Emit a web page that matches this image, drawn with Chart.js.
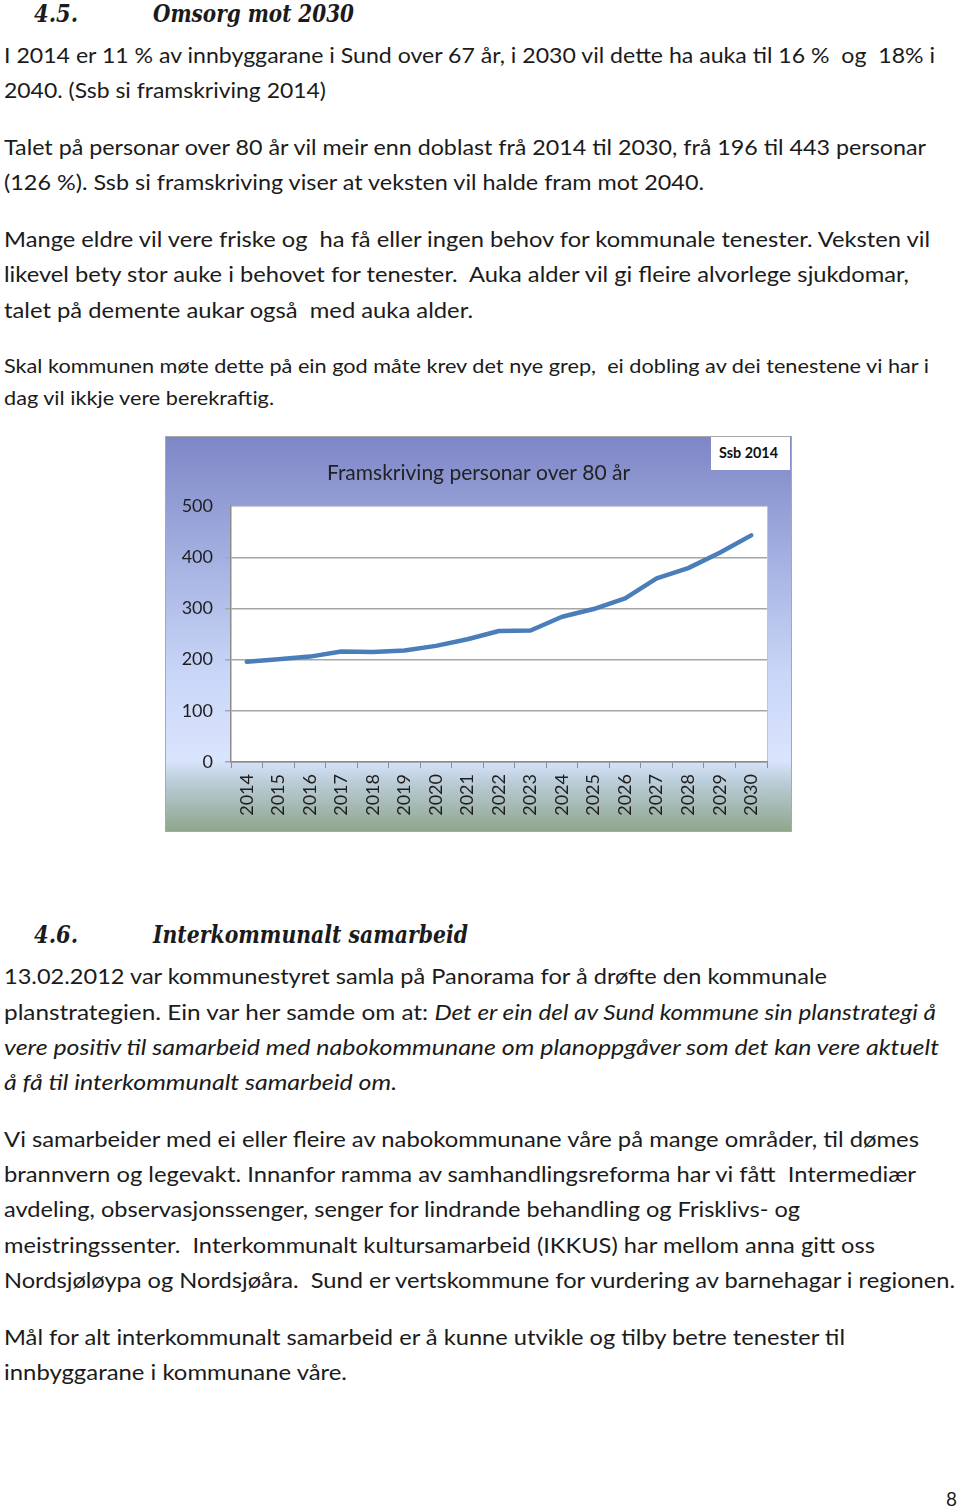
<!DOCTYPE html>
<html>
<head>
<meta charset="utf-8">
<script src="https://cdn.jsdelivr.net/npm/chart.js@4.4.0/dist/chart.umd.min.js"></script>
<style>
  body { margin: 0; background: #fff; width: 960px; height: 1509px; position: relative; overflow: hidden; }
  .ln { position: absolute; white-space: nowrap; font-family: Lato, sans-serif; color: #1b1b1b; line-height: 1; transform-origin: 0 0; }
  .hd { font-family: "DejaVu Serif", serif; font-weight: bold; font-style: italic; }
  #frame { position: absolute; left: 165px; top: 436px; width: 625px; height: 394px; border: 1px solid #a8a8a8;
    background: linear-gradient(to bottom, #7e86c6 0%, #a3afe0 30%, #c9d6f7 60%, #d9e4fd 82%, #b9cbd6 88%, #8fa68b 100%); }
  #chart-box { position: absolute; left: 0; top: 0; width: 625px; height: 394px; }
  #ssb { position: absolute; left: 545px; top: 0; width: 79px; height: 33px; background: #fff; }
</style>
</head>
<body>
<div id="text"></div>
<div id="frame">
  <div id="chart-box"><canvas id="chart" width="625" height="394"></canvas></div>
  <div id="ssb"><span class="ln" id="ssbTxt" style="font-weight:bold;font-size:15px;left:8px;top:8px;color:#111">Ssb 2014</span></div>
</div>
<script>
// data
const years = ['2014', '2015', '2016', '2017', '2018', '2019', '2020', '2021', '2022',
  '2023', '2024', '2025', '2026', '2027', '2028', '2029', '2030'];
const personsOver80 = [196, 201, 206, 216, 215, 218, 227, 240, 256, 257, 284, 299, 320, 359, 379, 409, 443];
const yTicks = [0, 100, 200, 300, 400, 500];
const chartTitle = 'Framskriving personar over 80 år';

// page text: [centre y, left x, right x, font size, html, extra class]
const lines = [
  [15, 34, 78, 24, '4.5.', 'hd'],
  [15, 153, 354, 24, 'Omsorg mot 2030', 'hd'],
  [56, 4, 935, 22, 'I 2014 er 11 % av innbyggarane i Sund over 67 år, i 2030 vil dette ha auka til 16 %&nbsp; og&nbsp; 18% i'],
  [91, 4, 326, 22, '2040. (Ssb si framskriving 2014)'],
  [148, 4, 926, 22, 'Talet på personar over 80 år vil meir enn doblast frå 2014 til 2030, frå 196 til 443 personar'],
  [183, 4, 704, 22, '(126 %). Ssb si framskriving viser at veksten vil halde fram mot 2040.'],
  [240, 4, 930, 22, 'Mange eldre vil vere friske og&nbsp; ha få eller ingen behov for kommunale tenester. Veksten vil'],
  [275, 4, 909, 22, 'likevel bety stor auke i behovet for tenester.&nbsp; Auka alder vil gi fleire alvorlege sjukdomar,'],
  [311, 4, 473, 22, 'talet på demente aukar også&nbsp; med auka alder.'],
  [366, 4, 929, 20, 'Skal kommunen møte dette på ein god måte krev det nye grep,&nbsp; ei dobling av dei tenestene vi har i'],
  [398, 4, 274, 20, 'dag vil ikkje vere berekraftig.'],
  [936, 34, 78, 24, '4.6.', 'hd'],
  [936, 153, 468, 24, 'Interkommunalt samarbeid', 'hd'],
  [977, 4, 827, 22, '13.02.2012 var kommunestyret samla på Panorama for å drøfte den kommunale'],
  [1013, 4, 936, 22, 'planstrategien. Ein var her samde om at: <i>Det er ein del av Sund kommune sin planstrategi å</i>'],
  [1048, 4, 939, 22, '<i>vere positiv til samarbeid med nabokommunane om planoppgåver som det kan vere aktuelt</i>'],
  [1083, 4, 397, 22, '<i>å få til interkommunalt samarbeid om.</i>'],
  [1140, 4, 919, 22, 'Vi samarbeider med ei eller fleire av nabokommunane våre på mange områder, til dømes'],
  [1175, 4, 916, 22, 'brannvern og legevakt. Innanfor ramma av samhandlingsreforma har vi fått&nbsp; Intermediær'],
  [1210, 4, 800, 22, 'avdeling, observasjonssenger, senger for lindrande behandling og Frisklivs- og'],
  [1246, 4, 875, 22, 'meistringssenter.&nbsp; Interkommunalt kultursamarbeid (IKKUS) har mellom anna gitt oss'],
  [1281, 4, 955, 22, 'Nordsjøløypa og Nordsjøåra.&nbsp; Sund er vertskommune for vurdering av barnehagar i regionen.'],
  [1338, 4, 845, 22, 'Mål for alt interkommunalt samarbeid er å kunne utvikle og tilby betre tenester til'],
  [1373, 4, 347, 22, 'innbyggarane i kommunane våre.'],
  [1499, 946, 957, 20, '8']
];

const textBox = document.getElementById('text');
lines.forEach(([y, x1, x2, size, html, cls]) => {
  const d = document.createElement('div');
  d.className = 'ln' + (cls ? ' ' + cls : '');
  d.style.fontSize = size + 'px';
  d.style.left = x1 + 'px';
  d.style.top = (y - size * 0.55) + 'px';
  d.innerHTML = html;
  textBox.appendChild(d);
  const w = d.getBoundingClientRect().width;
  d.style.transform = 'scaleX(' + ((x2 - x1) / w) + ')';
});
const ssb = document.getElementById('ssbTxt');
ssb.style.transform = 'scaleX(' + (59 / ssb.getBoundingClientRect().width) + ')';

// white plot area
const plotBg = {
  id: 'plotBg',
  beforeDraw(chart) {
    const { ctx, chartArea: a } = chart;
    ctx.save();
    ctx.fillStyle = '#ffffff';
    ctx.fillRect(a.left, a.top, a.right - a.left, a.bottom - a.top);
    ctx.strokeStyle = '#c4c4c4';
    ctx.lineWidth = 1;
    ctx.beginPath();
    ctx.moveTo(a.right + 0.5, a.top);
    ctx.lineTo(a.right + 0.5, a.bottom);
    ctx.stroke();
    ctx.restore();
  }
};

Chart.defaults.font.family = 'Lato, sans-serif';
Chart.defaults.color = '#1e1e1e';

new Chart(document.getElementById('chart'), {
  type: 'line',
  data: {
    labels: years,
    datasets: [{
      data: personsOver80,
      borderColor: '#4a7ebb',
      borderWidth: 4.5,
      pointRadius: 0,
      tension: 0,
      borderCapStyle: 'round',
      borderJoinStyle: 'round'
    }]
  },
  options: {
    responsive: false,
    maintainAspectRatio: false,
    animation: false,
    layout: { padding: 0 },
    plugins: {
      legend: { display: false },
      tooltip: { enabled: false },
      title: {
        display: true,
        text: chartTitle,
        color: '#222',
        font: { size: 21, weight: 'normal' },
        padding: { top: 24, bottom: 20 }
      }
    },
    scales: {
      x: {
        offset: true,
        grid: { offset: true, drawOnChartArea: false, drawTicks: true, tickLength: 6, color: '#8c8c8c' },
        border: { color: '#8c8c8c', width: 1.5 },
        ticks: { font: { size: 18 }, maxRotation: 90, minRotation: 90, padding: 6, autoSkip: false },
        afterFit(scale) { scale.height = 69; }
      },
      y: {
        min: 0,
        max: 500,
        afterBuildTicks(scale) { scale.ticks = yTicks.map(v => ({ value: v })); },
        grid: { color: '#a6a6a6', lineWidth: 1.5, tickLength: 6 },
        border: { color: '#8c8c8c', width: 1.5 },
        ticks: { font: { size: 18 }, padding: 12 },
        afterFit(scale) { scale.width = 65; }
      },
      // empty right axis, only keeps the gap on the right side
      spacer: {
        type: 'linear',
        position: 'right',
        grid: { display: false },
        border: { display: false },
        ticks: { display: false },
        afterFit(scale) { scale.width = 24; }
      }
    }
  },
  plugins: [plotBg]
});
</script>
</body>
</html>
